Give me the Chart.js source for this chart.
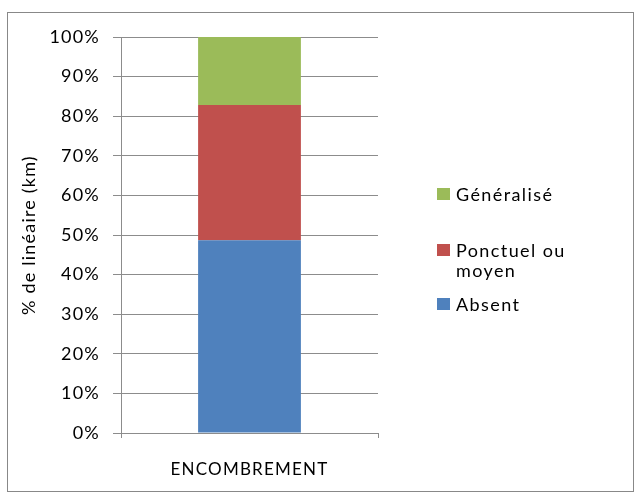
<!DOCTYPE html>
<html>
<head>
<meta charset="utf-8">
<script src="https://cdn.jsdelivr.net/npm/chart.js@4/dist/chart.umd.min.js"></script>
<style>
  html, body { margin: 0; padding: 0; background: #fff; }
  #wrap { width: 641px; height: 499px; }
</style>
</head>
<body>
<div id="wrap"><canvas id="chart" width="641" height="499"></canvas></div>
<script>
// Données
const categories = ['ENCOMBREMENT'];
const absent = [48.7];
const ponctuel = [34.1];
const generalise = [17.2];
const yTicks = [0, 10, 20, 30, 40, 50, 60, 70, 80, 90, 100];

const FONT = 'Lato, "Open Sans", sans-serif';
const GRID = '#8c8c8c';

// Texte un peu espacé, façon Calibri sous Excel
// (le contexte est réinitialisé au redimensionnement, donc on le remet avant mise en page et dessin)
const spacing = {
  id: 'spacing',
  beforeLayout(chart) { chart.ctx.letterSpacing = '1.2px'; },
  beforeDraw(chart) { chart.ctx.letterSpacing = '1.2px'; }
};

// Cadre gris autour du graphique
const frame = {
  id: 'frame',
  beforeDraw(chart) {
    const c = chart.ctx;
    c.save();
    c.fillStyle = '#fff';
    c.fillRect(0, 0, chart.width, chart.height);
    c.strokeStyle = '#888';
    c.lineWidth = 1;
    c.strokeRect(7.5, 12.5, 626, 479);
    c.restore();
  }
};

// Légende à droite, avec retour à la ligne comme dans Excel
const sideLegend = {
  id: 'sideLegend',
  afterDraw(chart) {
    const c = chart.ctx;
    const items = [
      { ds: 2, lines: ['Généralisé'], y: 194 },
      { ds: 1, lines: ['Ponctuel ou', 'moyen'], y: 250 },
      { ds: 0, lines: ['Absent'], y: 304 }
    ];
    c.save();
    c.font = '18px ' + FONT;
    c.letterSpacing = '1.4px';
    c.textBaseline = 'middle';
    items.forEach(it => {
      const ds = chart.data.datasets[it.ds];
      c.fillStyle = ds.backgroundColor;
      c.fillRect(437, it.y - 6, 13, 12);
      c.fillStyle = '#000';
      it.lines.forEach((t, i) => c.fillText(t, 456, it.y + 1 + i * 20));
    });
    c.restore();
  }
};

new Chart(document.getElementById('chart'), {
  type: 'bar',
  data: {
    labels: categories,
    datasets: [
      { label: 'Absent', data: absent, backgroundColor: '#4f81bd' },
      { label: 'Ponctuel ou moyen', data: ponctuel, backgroundColor: '#c0504d' },
      { label: 'Généralisé', data: generalise, backgroundColor: '#9bbb59' }
    ]
  },
  options: {
    responsive: false,
    animation: false,
    layout: { padding: { left: 18, top: 37, right: 263, bottom: 0 } },
    datasets: { bar: { barPercentage: 0.4, categoryPercentage: 1 } },
    scales: {
      x: {
        stacked: true,
        offset: true,
        grid: { display: true, offset: true, drawOnChartArea: false, color: GRID, lineWidth: 1, tickLength: 5 },
        border: { color: GRID },
        ticks: { color: '#000', font: { family: FONT, size: 17 }, padding: 21 },
        afterFit(s) { s.height = 66; }
      },
      y: {
        stacked: true,
        min: 0,
        max: 100,
        afterBuildTicks(s) { s.ticks = yTicks.map(v => ({ value: v })); },
        grid: { color: GRID, lineWidth: 1, tickLength: 8 },
        border: { color: GRID },
        ticks: {
          color: '#000',
          font: { family: FONT, size: 18 },
          padding: 13,
          callback: v => v + '%'
        },
        title: {
          display: true,
          text: '% de linéaire (km)',
          color: '#000',
          font: { family: FONT, size: 18 },
          padding: 0
        },
        afterFit(s) { s.width = 103; }
      }
    },
    plugins: {
      legend: { display: false },
      tooltip: { enabled: false }
    }
  },
  plugins: [spacing, frame, sideLegend]
});
</script>
</body>
</html>
